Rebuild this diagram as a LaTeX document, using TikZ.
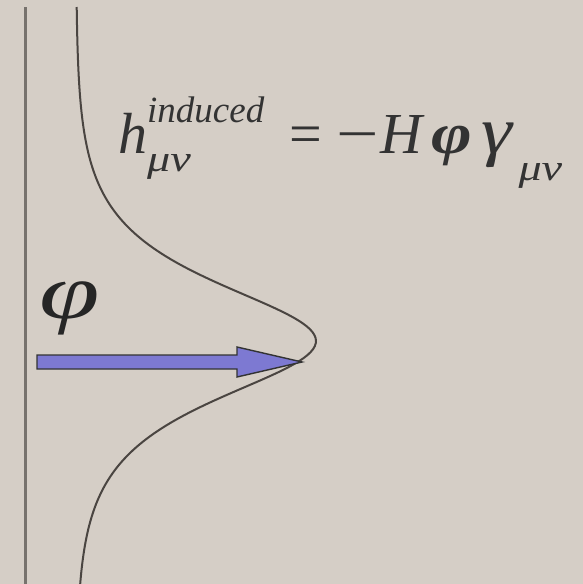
\documentclass[tikz,border=0pt]{standalone}
\usepackage{amsmath}
\usepackage{fontspec}
\setmainfont{Liberation Serif}
\definecolor{paper}{HTML}{D5CEC6}
\definecolor{axisgray}{HTML}{77726D}
\definecolor{curvegray}{HTML}{4A4541}
\definecolor{arrowblue}{HTML}{7D79D2}
\newcommand{\eqit}[1]{\text{\itshape #1}}
\newcommand{\eqsmall}[1]{\text{\fontsize{37}{40}\selectfont\itshape #1}}
\newcommand{\eqlow}[1]{\raisebox{-12pt}{\scalebox{1.25}[1]{\eqsmall{#1}}}}
\tikzset{
	axisline/.style={
			draw=axisgray,
			line width=3pt
		},
	profile/.style={
			draw=curvegray,
			line width=2pt
		},
	fieldarrow/.style={
			draw=black!80,
			fill=arrowblue,
			line width=1.4pt,
			line join=miter
		},
	eqtext/.style={
			font=\fontsize{58}{64}\selectfont,
			text=black!80,
			inner sep=0pt
		},
	philabel/.style={
			font=\fontsize{78}{84}\selectfont\itshape,
			text=black!85,
			inner sep=0pt
		}
}

\begin{document}
\begin{tikzpicture}[x=1pt, y=-1pt]

  \fill[paper] (0,0) rectangle (583,584);
  \useasboundingbox (0,0) rectangle (583,584);

  % axis and bump profile
  \draw[axisline] (25,7) -- (25,584);
  \draw[profile] plot[domain=7:584, samples=200, variable=\t]
    ({76+240/cosh((\t-341)/53)^1.04}, \t);

  % arrow to the bump
  \coordinate (tail) at (37,362);
  \coordinate (tip) at (302,362);
  \draw[fieldarrow] (tail) ++(0,-7) -- ++(200,0) -- ++(0,-8)
    -- (tip) -- ++(-65,15) -- ++(0,-8) -- ++(-200,0) -- cycle;

  % labels
  \node[philabel, anchor=base west] (phi) at (39,318) {\scalebox{1.4}[1]{φ}};
  \node[eqtext, anchor=base west] (eq) at (118,153)
    {$\eqit{h}^{\eqsmall{induced}}_{\eqlow{μν}}\hspace{25pt}\text{=}\hspace{14pt}\text{\scalebox{1.3}[1]{−}}\hspace{1pt}\eqit{H}\hspace{10pt}\text{\bfseries\itshape\scalebox{1.2}[1]{φ}}\hspace{9pt}\eqit{\scalebox{1.35}[1.15]{γ}}_{\hspace{6pt}\eqlow{μν}}$};

\end{tikzpicture}
\end{document}
